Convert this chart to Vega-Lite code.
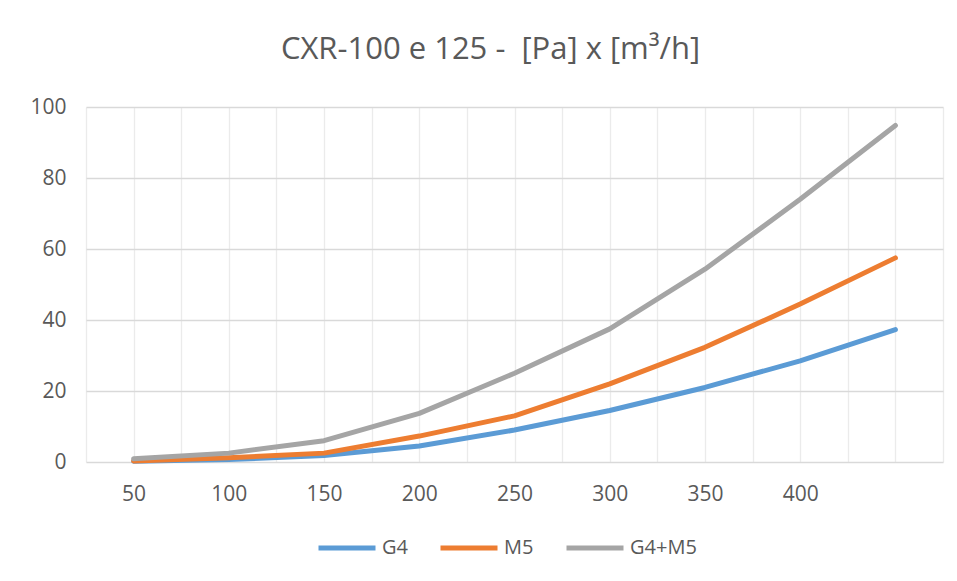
{
  "$schema": "https://vega.github.io/schema/vega-lite/v6.json",
  "width": 857,
  "height": 355,
  "autosize": {"type": "none"},
  "padding": {"left": 86, "top": 107, "right": 14, "bottom": 119},
  "background": "white",
  "title": {
    "text": "CXR-100 e 125 - \u00a0[Pa] x [m³/h]",
    "font": "Open Sans",
    "fontSize": 31,
    "fontWeight": "normal",
    "color": "#595959",
    "anchor": "middle",
    "baseline": "alphabetic",
    "offset": 6,
    "dx": -24
  },
  "data": {
    "values": [
      {"q": 50, "serie": "G4", "pa": 0.2},
      {"q": 100, "serie": "G4", "pa": 0.7},
      {"q": 150, "serie": "G4", "pa": 1.8},
      {"q": 200, "serie": "G4", "pa": 4.5},
      {"q": 250, "serie": "G4", "pa": 9},
      {"q": 300, "serie": "G4", "pa": 14.5},
      {"q": 350, "serie": "G4", "pa": 21},
      {"q": 400, "serie": "G4", "pa": 28.5},
      {"q": 450, "serie": "G4", "pa": 37.3},
      {"q": 50, "serie": "M5", "pa": 0.3},
      {"q": 100, "serie": "M5", "pa": 1.2},
      {"q": 150, "serie": "M5", "pa": 2.5},
      {"q": 200, "serie": "M5", "pa": 7.3},
      {"q": 250, "serie": "M5", "pa": 13},
      {"q": 300, "serie": "M5", "pa": 22},
      {"q": 350, "serie": "M5", "pa": 32.3},
      {"q": 400, "serie": "M5", "pa": 44.5},
      {"q": 450, "serie": "M5", "pa": 57.5},
      {"q": 50, "serie": "G4+M5", "pa": 0.9},
      {"q": 100, "serie": "G4+M5", "pa": 2.5},
      {"q": 150, "serie": "G4+M5", "pa": 6},
      {"q": 200, "serie": "G4+M5", "pa": 13.7},
      {"q": 250, "serie": "G4+M5", "pa": 25},
      {"q": 300, "serie": "G4+M5", "pa": 37.5},
      {"q": 350, "serie": "G4+M5", "pa": 54.3},
      {"q": 400, "serie": "G4+M5", "pa": 74},
      {"q": 450, "serie": "G4+M5", "pa": 94.8}
    ]
  },
  "mark": {"type": "line", "strokeWidth": 5, "strokeCap": "round", "strokeJoin": "round"},
  "encoding": {
    "x": {
      "field": "q",
      "type": "quantitative",
      "scale": {"domain": [25, 475], "nice": false, "zero": false},
      "axis": {
        "title": null,
        "values": [25, 50, 75, 100, 125, 150, 175, 200, 225, 250, 275, 300, 325, 350, 375, 400, 425, 450, 475],
        "labelExpr": "(datum.value % 50 == 0 && datum.value <= 400) ? datum.label : ''",
        "domain": false,
        "ticks": false,
        "tickSize": 0,
        "grid": true,
        "gridColor": "#EBEBEB",
        "gridWidth": 1.3,
        "labelFont": "Open Sans",
        "labelFontSize": 21,
        "labelColor": "#595959",
        "labelPadding": 21,
        "labelFlush": false,
        "labelOverlap": false
      }
    },
    "y": {
      "field": "pa",
      "type": "quantitative",
      "scale": {"domain": [0, 100], "nice": false},
      "axis": {
        "title": null,
        "values": [0, 20, 40, 60, 80, 100],
        "domain": false,
        "ticks": false,
        "tickSize": 0,
        "grid": true,
        "gridColor": "#D9D9D9",
        "gridWidth": 1.3,
        "labelFont": "Open Sans",
        "labelFontSize": 21,
        "labelColor": "#595959",
        "labelPadding": 20
      }
    },
    "color": {
      "field": "serie",
      "type": "nominal",
      "scale": {"domain": ["G4", "M5", "G4+M5"], "range": ["#5B9BD5", "#ED7D31", "#A5A5A5"]},
      "legend": {
        "title": null,
        "orient": "none",
        "legendX": 230,
        "legendY": 410,
        "direction": "horizontal",
        "symbolType": "stroke",
        "symbolSize": 3249,
        "symbolStrokeWidth": 5,
        "labelFont": "Open Sans",
        "labelFontSize": 20,
        "labelColor": "#595959",
        "labelOffset": 4,
        "columnPadding": 22
      }
    }
  },
  "config": {"view": {"stroke": null}}
}
